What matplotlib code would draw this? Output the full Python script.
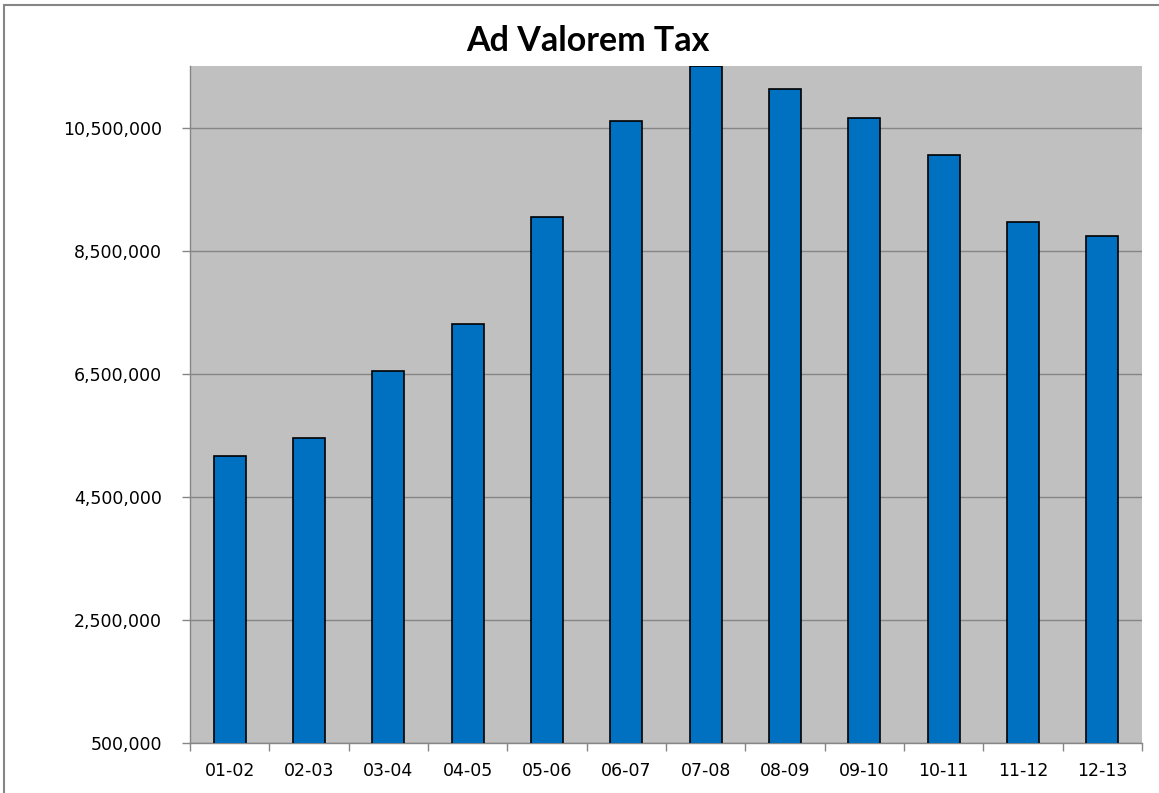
import matplotlib
matplotlib.use("Agg")
import matplotlib.pyplot as plt
from matplotlib.ticker import FuncFormatter, FixedLocator
import numpy as np

categories = ["01-02", "02-03", "03-04", "04-05", "05-06", "06-07",
              "07-08", "08-09", "09-10", "10-11", "11-12", "12-13"]
values = [5170000, 5460000, 6550000, 7300000, 9040000, 10610000,
          11500000, 11120000, 10650000, 10060000, 8960000, 8740000]
yticks = [500000, 2500000, 4500000, 6500000, 8500000, 10500000]

plt.rcParams['font.family'] = ['DejaVu Sans']

fig = plt.figure(figsize=(11.59, 7.93), dpi=100)
ax = fig.add_axes([190/1159, 1-743/793, (1142-190)/1159, (743-66)/793])

x = np.arange(len(categories))
ax.bar(x, values, width=0.40, color="#0070C0", edgecolor="black", linewidth=1.2, zorder=3)

ax.set_facecolor("#C0C0C0")
ax.set_xlim(-0.5, len(categories) - 0.5)
ax.set_ylim(500000, 11500000)
ax.yaxis.set_major_locator(FixedLocator(yticks))
ax.yaxis.set_major_formatter(FuncFormatter(lambda v, p: f"{int(v):,}"))
ax.grid(axis="y", color="#868686", linewidth=1.0, zorder=1)

ax.set_xticks(x)
ax.set_xticklabels(categories)
ax.set_xticks(np.arange(len(categories) + 1) - 0.5, minor=True)
ax.tick_params(axis="x", which="major", length=0, pad=14, labelsize=12.5, labelcolor="black")
ax.tick_params(axis="x", which="minor", length=6, color="#868686", width=1)
ax.tick_params(axis="y", length=6, color="#868686", width=1, labelsize=12.5, pad=14)

for s in ["top", "right"]:
    ax.spines[s].set_visible(False)
for s in ["left", "bottom"]:
    ax.spines[s].set_color("#868686")
    ax.spines[s].set_linewidth(1)

fig.text(588/1159, 1 - 41/793, "Ad Valorem Tax", ha="center", va="center",
         fontsize=24.5, fontweight="bold", family=["Lato", "DejaVu Sans"])

# figure border
border = plt.Rectangle((4/1159, -0.01), 1.2, 1 - 5/793 + 0.01, transform=fig.transFigure,
                       fill=False, edgecolor="#868686", linewidth=1.5)
fig.patches.append(border)

fig.savefig("out.png", dpi=100)
